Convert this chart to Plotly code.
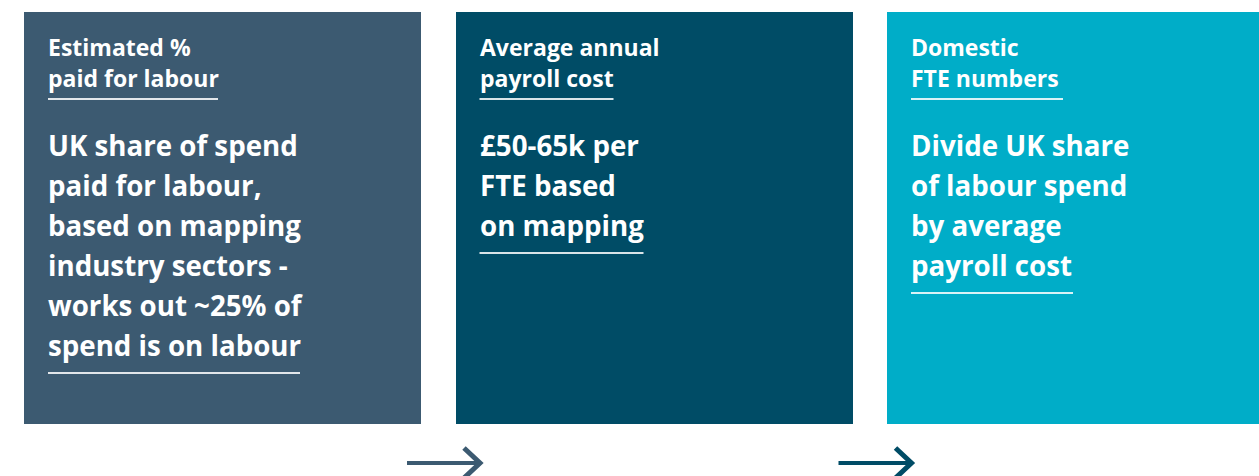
import plotly.graph_objects as go

# ---- content ----
steps = ["Estimated % paid for labour", "Average annual payroll cost", "Domestic FTE numbers"]
header_lines = [
    ["Estimated %", "paid for labour"],
    ["Average annual", "payroll cost"],
    ["Domestic", "FTE numbers"],
]
body_lines = [
    ["UK share of spend", "paid for labour,", "based on mapping",
     "industry sectors -", "works out ~25% of", "spend is on labour"],
    ["£50-65k per", "FTE based", "on mapping"],
    ["Divide UK share", "of labour spend", "by average", "payroll cost"],
]
box_values = [1, 1, 1]

# ---- style ----
W, H = 1259, 476
box_colors = ["#3c5a71", "#004c66", "#00adc8"]
arrow_colors = ["#3c5a71", "#004c66"]
FONT = "Open Sans"
pitch = 431.5
first_center = 222.5
bar_w = 397 / pitch
text_left_off = 22          # px from box left edge
header_y = [47, 78]
body_y0, body_dy = 145, 40
header_ul_y = 99
header_ul_w = [170, 134, 152]
body_ul_w = [252, 164, 162]

def px(xp):
    return xp / W

def py(yp):
    return 1 - yp / H

fig = go.Figure()
fig.add_trace(go.Bar(
    x=list(range(len(steps))), y=box_values, width=bar_w,
    marker=dict(color=box_colors, line=dict(width=0)),
    hoverinfo="skip", showlegend=False,
))

annotations = []
shapes = []
for i in range(len(steps)):
    box_left = first_center + i * pitch - 397 / 2
    left = box_left + text_left_off
    ul_left = box_left + 24
    for j, t in enumerate(header_lines[i]):
        annotations.append(dict(
            text=t, x=px(left), y=py(header_y[j]), xref="paper", yref="paper",
            xanchor="left", yanchor="middle", showarrow=False,
            font=dict(family=FONT, size=23, color="white", weight="bold"),
        ))
    shapes.append(dict(type="line", xref="paper", yref="paper",
                       x0=px(ul_left), x1=px(ul_left + header_ul_w[i]),
                       y0=py(header_ul_y), y1=py(header_ul_y),
                       line=dict(color="rgba(255,255,255,0.85)", width=2)))
    for j, t in enumerate(body_lines[i]):
        annotations.append(dict(
            text=t, x=px(left), y=py(body_y0 + j * body_dy), xref="paper", yref="paper",
            xanchor="left", yanchor="middle", showarrow=False,
            font=dict(family=FONT, size=27.7, color="white", weight="bold"),
        ))
    uy = body_y0 + (len(body_lines[i]) - 1) * body_dy + 28
    shapes.append(dict(type="line", xref="paper", yref="paper",
                       x0=px(ul_left), x1=px(ul_left + body_ul_w[i]),
                       y0=py(uy), y1=py(uy),
                       line=dict(color="rgba(255,255,255,0.85)", width=2)))

# arrows between steps
for k in range(len(steps) - 1):
    right_edge = first_center + k * pitch + 397 / 2
    x0 = right_edge - 14
    tip = x0 + 73
    ay = 463
    shapes.append(dict(type="line", xref="paper", yref="paper",
                       x0=px(x0), x1=px(tip - 3), y0=py(ay), y1=py(ay),
                       line=dict(color=arrow_colors[k], width=4)))
    shapes.append(dict(type="path", xref="paper", yref="paper",
                       path=f"M {px(tip-16)},{py(ay-15)} L {px(tip)},{py(ay)} L {px(tip-16)},{py(ay+15)}",
                       line=dict(color=arrow_colors[k], width=5)))

x_lo = -first_center / pitch
x_hi = (W - first_center) / pitch
y_lo = -(H - 424) / 412
y_hi = 1 + 12 / 412

fig.update_layout(
    width=W, height=H,
    margin=dict(l=0, r=0, t=0, b=0),
    paper_bgcolor="white", plot_bgcolor="white",
    xaxis=dict(range=[x_lo, x_hi], visible=False, fixedrange=True),
    yaxis=dict(range=[y_lo, y_hi], visible=False, fixedrange=True),
    annotations=annotations, shapes=shapes,
    bargap=0,
)

fig.write_html("out.html", config={"displayModeBar": False},
               post_script="document.body.style.margin='0';document.body.style.overflow='hidden';")
